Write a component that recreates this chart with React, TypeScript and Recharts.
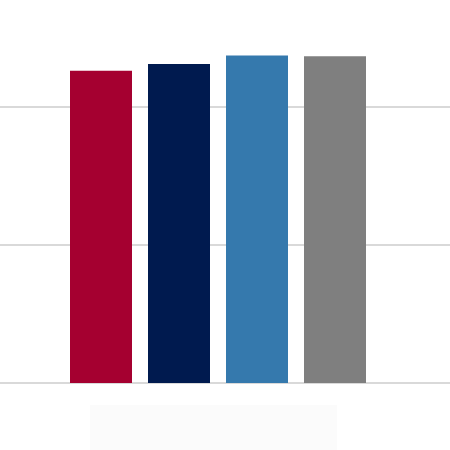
import { BarChart, Bar, XAxis, YAxis, CartesianGrid, Cell } from "recharts";

const categories = ["A", "B", "C", "D"];
const values = [2.263, 2.312, 2.374, 2.367];
const colors = ["#a50030", "#001a4f", "#3579ad", "#7f7f7f"];
const yTicks = [0, 1, 2, 3];

const data = categories.map((name, i) => ({ name, value: values[i] }));

export default function App() {
  return (
    <div style={{ position: "absolute", left: 0, top: 0, width: 450, height: 450, background: "#fff", overflow: "hidden" }}>
      {/* chart is cropped at the top, so shift it up past the 3.0 gridline */}
      <div style={{ position: "absolute", left: 0, top: -31 }}>
        <BarChart width={450} height={481} data={data} margin={{ top: 0, right: 0, bottom: 67, left: 0 }}>
          <CartesianGrid vertical={false} stroke="#d9d9d9" strokeWidth={2} />
          <XAxis dataKey="name" hide padding={{ left: 62, right: 76 }} />
          <YAxis hide domain={[0, 3]} ticks={yTicks} />
          <Bar dataKey="value" barSize={62} isAnimationActive={false}>
            {data.map((d, i) => (
              <Cell key={d.name} fill={colors[i]} />
            ))}
          </Bar>
        </BarChart>
      </div>
      <div style={{ position: "absolute", left: 90, top: 405, width: 247, height: 45, background: "#fbfbfb" }} />
    </div>
  );
}
